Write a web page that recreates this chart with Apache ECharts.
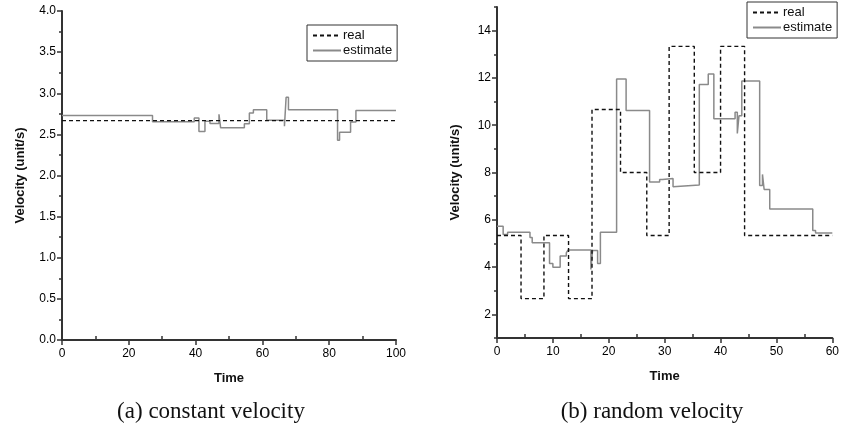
<!DOCTYPE html>
<html><head><meta charset="utf-8">
<script src="https://cdn.jsdelivr.net/npm/echarts@6/dist/echarts.min.js"></script>
<style>html,body{margin:0;padding:0;background:#fff}#c{width:842px;height:428px}</style>
</head><body><div id="c"></div>
<script>
// ---- data ----
const seriesNames = ['real', 'estimate'];
const captions = ['(a) constant velocity', '(b) random velocity'];
const xName = 'Time';
const yName = 'Velocity (unit/s)';

// (a) constant velocity — step start times and values
const leftRealT = [0, 100];
const leftRealV = [2.667, 2.667];
const leftEstT = [0, 27.1, 39.6, 41.0, 42.8, 44.3, 47.0, 47.5, 54.6, 56.1, 57.3, 61.3, 66.6, 67.1, 67.8, 82.5, 83.1, 86.4, 88.0, 100];
const leftEstV = [2.73, 2.655, 2.70, 2.535, 2.66, 2.632, 2.745, 2.58, 2.63, 2.76, 2.80, 2.672, 2.60, 2.95, 2.80, 2.43, 2.527, 2.65, 2.79, 2.79];

// (b) random velocity
const rightRealT = [0, 4.3, 8.4, 12.8, 17.0, 22.1, 26.8, 30.8, 35.3, 40.0, 44.3, 60];
const rightRealV = [5.333, 2.667, 5.333, 2.667, 10.667, 8.0, 5.333, 13.333, 8.0, 13.333, 5.333, 5.333];
const rightEstT = [0, 1.1, 1.9, 5.9, 6.3, 9.4, 10.0, 11.3, 12.4, 12.7, 16.8, 17.1, 18.0, 18.5, 21.4, 23.1, 27.3, 29.1, 29.6, 31.5, 31.7, 36.2, 37.8, 38.8, 42.6, 43.0, 43.3, 43.8, 47.0, 47.5, 47.8, 48.8, 56.5, 57.0, 60];
const rightEstV = [5.73, 5.38, 5.47, 5.25, 5.03, 4.15, 3.99, 4.47, 4.6, 4.72, 3.9, 4.7, 4.15, 5.47, 11.95, 10.62, 7.6, 7.7, 7.75, 7.4, 7.47, 11.72, 12.17, 10.27, 10.55, 9.65, 10.4, 11.87, 7.45, 7.92, 7.28, 6.46, 5.55, 5.44, 5.44];

// ticks
const leftXTicks = [0, 20, 40, 60, 80, 100];
const leftXMinor = [10, 30, 50, 70, 90];
const leftYTicks = [0, 0.5, 1, 1.5, 2, 2.5, 3, 3.5, 4];
const leftYMinor = [0.25, 0.75, 1.25, 1.75, 2.25, 2.75, 3.25, 3.75];
const rightXTicks = [0, 10, 20, 30, 40, 50, 60];
const rightXMinor = [5, 15, 25, 35, 45, 55];
const rightYTicks = [2, 4, 6, 8, 10, 12, 14];
const rightYMinor = [1, 3, 5, 7, 9, 11, 13, 15];

// ---- chart ----
const zip = (t, v) => t.map((x, i) => [x, v[i]]);
const tickFont = { fontFamily: '"Liberation Sans",Arial,sans-serif', fontSize: 12, color: '#000' };
const nameFont = { fontFamily: '"Liberation Sans",Arial,sans-serif', fontSize: 13, color: '#111', fontWeight: 'bold' };
const axisLine = { show: true, lineStyle: { color: '#333', width: 2 } };

function mainX(grid, min, max, ticks, fmt) {
  return {
    type: 'value', gridIndex: grid, position: 'bottom', min: min, max: max,
    name: xName, nameLocation: 'middle', nameGap: 32, nameTextStyle: nameFont,
    axisLine: axisLine,
    axisTick: { show: true, customValues: ticks, length: 5, lineStyle: { color: '#333', width: 1.5 } },
    axisLabel: { show: true, customValues: ticks, margin: 8, formatter: fmt, ...tickFont },
    splitLine: { show: false }
  };
}
function minorX(grid, min, max, ticks) {
  return {
    type: 'value', gridIndex: grid, position: 'bottom', min: min, max: max,
    axisLine: { show: false },
    axisTick: { show: true, inside: true, customValues: ticks, length: 4, lineStyle: { color: '#333', width: 1.5 } },
    axisLabel: { show: false }, splitLine: { show: false }
  };
}
function mainY(grid, min, max, ticks, fmt) {
  return {
    type: 'value', gridIndex: grid, position: 'left', min: min, max: max,
    name: yName, nameLocation: 'middle', nameGap: 35, nameTextStyle: nameFont,
    axisLine: axisLine,
    axisTick: { show: true, customValues: ticks, length: 5, lineStyle: { color: '#333', width: 1.5 } },
    axisLabel: { show: true, customValues: ticks, margin: 6, formatter: fmt, ...tickFont },
    splitLine: { show: false }
  };
}
function minorY(grid, min, max, ticks) {
  return {
    type: 'value', gridIndex: grid, position: 'left', min: min, max: max,
    axisLine: { show: false },
    axisTick: { show: true, customValues: ticks, length: 3, lineStyle: { color: '#333', width: 1.5 } },
    axisLabel: { show: false }, splitLine: { show: false }
  };
}

function legendAt(left, top) {
  return {
    data: seriesNames, left: left, top: top, orient: 'vertical',
    padding: [4, 5, 4, 5], itemGap: 2, itemWidth: 28, itemHeight: 14,
    borderColor: '#333', borderWidth: 1, backgroundColor: '#fff', borderRadius: 0,
    itemStyle: { opacity: 0 },
    textStyle: { fontFamily: '"Liberation Sans",Arial,sans-serif', fontSize: 13, color: '#111', padding: [0, 0, 0, -3] },
    selectedMode: false
  };
}

function lineSeries(name, xi, yi, data) {
  const real = name === 'real';
  return {
    name: name, type: 'line', step: 'end', xAxisIndex: xi, yAxisIndex: yi,
    data: data, symbol: 'none', showSymbol: false, animation: false, z: real ? 3 : 2,
    lineStyle: real ? { color: '#111', width: 1.4, type: [4, 3] } : { color: '#8a8a8a', width: 1.5 },
    itemStyle: { color: real ? '#111' : '#8a8a8a' }
  };
}

const chart = echarts.init(document.getElementById('c'), null, { renderer: 'canvas' });
chart.setOption({
  animation: false,
  backgroundColor: '#fff',
  grid: [
    { left: 62, top: 11, width: 334, height: 329, containLabel: false },
    { left: 497, top: 7, width: 338, height: 331, containLabel: false }
  ],
  xAxis: [
    mainX(0, 0, 100, leftXTicks, v => String(v)),
    minorX(0, 0, 100, leftXMinor),
    mainX(1, 0, 60, rightXTicks, v => String(v)),
    minorX(1, 0, 60, rightXMinor)
  ],
  yAxis: [
    mainY(0, 0, 4, leftYTicks, v => v.toFixed(1)),
    minorY(0, 0, 4, leftYMinor),
    mainY(1, 1, 15, rightYTicks, v => String(v)),
    minorY(1, 1, 15, rightYMinor)
  ],
  legend: [legendAt(307, 25), legendAt(747, 2)],
  series: [
    lineSeries('real', 0, 0, zip(leftRealT, leftRealV)),
    lineSeries('estimate', 0, 0, zip(leftEstT, leftEstV)),
    lineSeries('real', 2, 2, zip(rightRealT, rightRealV)),
    lineSeries('estimate', 2, 2, zip(rightEstT, rightEstV))
  ],
  graphic: [
    { type: 'text', x: 211, y: 412, style: { text: captions[0], align: 'center', verticalAlign: 'middle', fontFamily: '"Liberation Serif","Times New Roman",serif', fontSize: 23, fill: '#111' } },
    { type: 'text', x: 652, y: 412, style: { text: captions[1], align: 'center', verticalAlign: 'middle', fontFamily: '"Liberation Serif","Times New Roman",serif', fontSize: 23, fill: '#111' } }
  ]
});
</script>
</body></html>
